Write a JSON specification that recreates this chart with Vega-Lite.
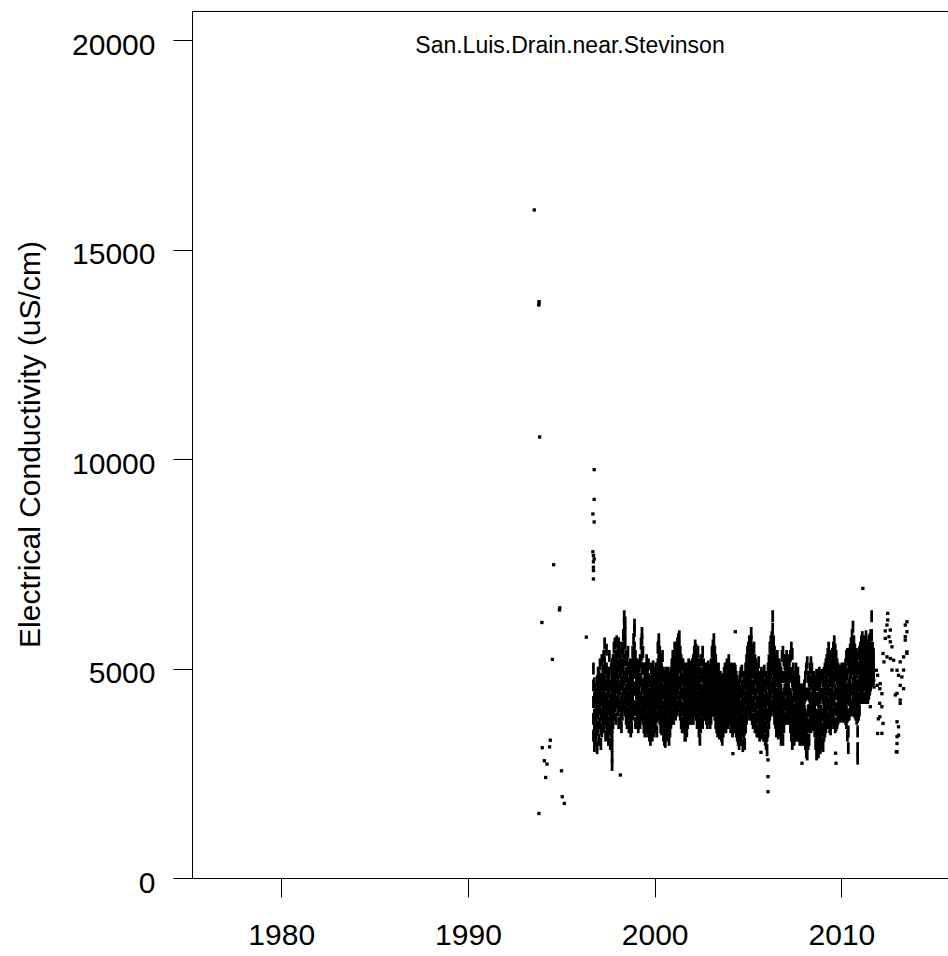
{
  "$schema": "https://vega.github.io/schema/vega-lite/v6.json",
  "width": 756,
  "height": 867,
  "autosize": {"type": "none"},
  "padding": {"left": 192, "top": 11, "right": 0, "bottom": 78},
  "background": "white",
  "config": {
    "view": {"stroke": null},
    "font": "Liberation Sans",
    "axis": {"domainColor": "#000", "tickColor": "#000", "labelColor": "#000", "titleColor": "#000", "grid": false, "domainWidth": 1, "tickWidth": 1, "labelFont": "Liberation Sans", "titleFont": "Liberation Sans", "labelFontSize": 30, "titleFontSize": 30, "titleFontWeight": "normal", "labelFlush": false, "labelOverlap": false}
  },
  "title": {"text": "San.Luis.Drain.near.Stevinson", "fontSize": 23, "fontWeight": "normal", "font": "Liberation Sans", "color": "#000", "anchor": "middle", "offset": -47, "frame": "group"},
  "datasets": {
    "sparse": [
      {"t":1993.55,"v":15950},{"t":1993.79,"v":13680},{"t":1993.81,"v":13760},{"t":1993.80,"v":13720},{"t":1993.84,"v":10530},{"t":1993.96,"v":6100},{"t":1994.59,"v":7480},{"t":1994.90,"v":6400},{"t":1994.92,"v":6450},{"t":1994.52,"v":5220},{"t":1996.34,"v":5750},{"t":1994.41,"v":3290},{"t":1993.98,"v":3110},{"t":1994.37,"v":3130},{"t":1994.09,"v":2800},{"t":1994.23,"v":2720},{"t":1995.01,"v":2560},{"t":1994.16,"v":2400},{"t":1995.05,"v":1940},{"t":1995.16,"v":1780},{"t":1993.80,"v":1540},
      {"t":1996.76,"v":9750},{"t":1996.76,"v":9040},{"t":1996.69,"v":8690},{"t":1996.76,"v":8500},{"t":1996.69,"v":7790},{"t":1996.72,"v":7700},{"t":1996.76,"v":7620},{"t":1996.72,"v":7550},{"t":1996.72,"v":7420},{"t":1996.72,"v":7340},{"t":1996.72,"v":7140},
      {"t":1998.16,"v":2460},{"t":2001.64,"v":3300},{"t":2004.19,"v":2970},{"t":2004.32,"v":5880},{"t":2005.69,"v":3000},{"t":2006.07,"v":2820},{"t":2006.07,"v":2420},{"t":2006.07,"v":2060},{"t":2007.89,"v":2740},{"t":2009.69,"v":2980},{"t":2009.71,"v":2740},{"t":2011.15,"v":6914},
      {"t":2011.55,"v":4090},{"t":2011.73,"v":4720},{"t":2011.75,"v":4560},{"t":2011.87,"v":4960},{"t":2011.94,"v":4840},{"t":2011.92,"v":4600},{"t":2012.08,"v":4640},{"t":2012.06,"v":4520},{"t":2012.17,"v":4400},{"t":2012.05,"v":4170},{"t":2012.17,"v":4090},{"t":2012.06,"v":3850},{"t":2012.23,"v":3690},{"t":2011.94,"v":3450},{"t":2012.17,"v":3454},{"t":2011.98,"v":3800},
      {"t":2012.48,"v":6318},{"t":2012.48,"v":6160},{"t":2012.44,"v":6040},{"t":2012.62,"v":5920},{"t":2012.55,"v":5760},{"t":2012.35,"v":5720},{"t":2012.35,"v":5900},{"t":2012.62,"v":5640},{"t":2012.71,"v":5520},{"t":2012.23,"v":5360},{"t":2012.44,"v":5280},{"t":2012.62,"v":5240},{"t":2012.28,"v":5160},{"t":2012.80,"v":5200},{"t":2012.71,"v":4965},
      {"t":2013.51,"v":6118},{"t":2013.42,"v":6040},{"t":2013.51,"v":5880},{"t":2013.42,"v":5760},{"t":2013.42,"v":5680},{"t":2013.51,"v":5400},{"t":2013.51,"v":5363},{"t":2013.33,"v":5280},{"t":2013.15,"v":5160},{"t":2012.98,"v":4960},{"t":2013.06,"v":4840},{"t":2013.24,"v":4800},{"t":2013.33,"v":4965},{"t":2013.15,"v":4600},{"t":2013.33,"v":4520},{"t":2012.89,"v":4370},{"t":2012.98,"v":4408},{"t":2013.15,"v":4170},{"t":2013.15,"v":4249},{"t":2012.98,"v":3730},{"t":2013.06,"v":3610},{"t":2013.06,"v":3410},{"t":2012.98,"v":3210},{"t":2012.98,"v":3010},{"t":2012.94,"v":3015},{"t":2012.98,"v":3374}
    ],
    "band": [
      {"t":1996.72,"v":3400},{"t":1996.72,"v":3800},{"t":1996.72,"v":4200},{"t":1996.72,"v":4600},{"t":1996.72,"v":5000},
      {"t":1996.77,"v":3150},{"t":1996.77,"v":3550},{"t":1996.77,"v":3900},{"t":1996.77,"v":4300},{"t":1996.77,"v":4650},
      {"t":1996.82,"v":3450},{"t":1996.82,"v":3800},{"t":1996.82,"v":4200},{"t":1996.82,"v":4350},{"t":1996.82,"v":4500},
      {"t":1996.87,"v":3300},{"t":1996.87,"v":3550},{"t":1996.87,"v":3800},{"t":1996.87,"v":4100},{"t":1996.87,"v":4400},
      {"t":1996.92,"v":3100},{"t":1996.92,"v":3550},{"t":1996.92,"v":4000},{"t":1996.92,"v":4350},{"t":1996.92,"v":4700},
      {"t":1996.97,"v":3600},{"t":1996.97,"v":3950},{"t":1996.97,"v":4300},{"t":1996.97,"v":4600},{"t":1996.97,"v":4900},
      {"t":1997.02,"v":3300},{"t":1997.02,"v":3700},{"t":1997.02,"v":4100},{"t":1997.02,"v":4450},{"t":1997.02,"v":4800},
      {"t":1997.07,"v":3700},{"t":1997.07,"v":4050},{"t":1997.07,"v":4400},{"t":1997.07,"v":4750},{"t":1997.07,"v":5100},
      {"t":1997.12,"v":3200},{"t":1997.12,"v":3550},{"t":1997.12,"v":3900},{"t":1997.12,"v":4250},{"t":1997.12,"v":4600},
      {"t":1997.17,"v":3500},{"t":1997.17,"v":3900},{"t":1997.17,"v":4300},{"t":1997.17,"v":4750},{"t":1997.17,"v":5200},
      {"t":1997.22,"v":3800},{"t":1997.22,"v":4150},{"t":1997.22,"v":4500},{"t":1997.22,"v":4700},{"t":1997.22,"v":4950},
      {"t":1997.27,"v":3600},{"t":1997.27,"v":4000},{"t":1997.27,"v":4400},{"t":1997.27,"v":4850},{"t":1997.27,"v":5300},
      {"t":1997.32,"v":3900},{"t":1997.32,"v":4300},{"t":1997.32,"v":4700},{"t":1997.32,"v":5150},{"t":1997.32,"v":5600},
      {"t":1997.37,"v":3400},{"t":1997.37,"v":3800},{"t":1997.37,"v":4200},{"t":1997.37,"v":4600},{"t":1997.37,"v":5000},
      {"t":1997.42,"v":3700},{"t":1997.42,"v":4150},{"t":1997.42,"v":4600},{"t":1997.42,"v":5000},{"t":1997.42,"v":5450},
      {"t":1997.47,"v":3500},{"t":1997.47,"v":3900},{"t":1997.47,"v":4300},{"t":1997.47,"v":4600},{"t":1997.47,"v":4900},
      {"t":1997.52,"v":3300},{"t":1997.52,"v":3700},{"t":1997.52,"v":4100},{"t":1997.52,"v":4450},{"t":1997.52,"v":4800},
      {"t":1997.57,"v":3600},{"t":1997.57,"v":4050},{"t":1997.57,"v":4500},{"t":1997.57,"v":4900},{"t":1997.57,"v":5300},
      {"t":1997.62,"v":3200},{"t":1997.62,"v":3550},{"t":1997.62,"v":3900},{"t":1997.62,"v":4250},{"t":1997.62,"v":4600},
      {"t":1997.67,"v":3500},{"t":1997.67,"v":3850},{"t":1997.67,"v":4200},{"t":1997.67,"v":4600},{"t":1997.67,"v":5000},
      {"t":1997.72,"v":2700},{"t":1997.72,"v":2900},{"t":1997.72,"v":3150},{"t":1997.72,"v":3400},{"t":1997.72,"v":3600},{"t":1997.72,"v":3800},{"t":1997.72,"v":4050},{"t":1997.72,"v":4300},{"t":1997.72,"v":4550},{"t":1997.72,"v":4800},{"t":1997.72,"v":5100},
      {"t":1997.77,"v":3700},{"t":1997.77,"v":4100},{"t":1997.77,"v":4500},{"t":1997.77,"v":4850},{"t":1997.77,"v":5200},
      {"t":1997.82,"v":3900},{"t":1997.82,"v":4300},{"t":1997.82,"v":4700},{"t":1997.82,"v":5100},{"t":1997.82,"v":5500},
      {"t":1997.87,"v":4100},{"t":1997.87,"v":4450},{"t":1997.87,"v":4800},{"t":1997.87,"v":5200},{"t":1997.87,"v":5600},
      {"t":1997.92,"v":3800},{"t":1997.92,"v":4200},{"t":1997.92,"v":4600},{"t":1997.92,"v":4950},{"t":1997.92,"v":5300},
      {"t":1997.97,"v":4200},{"t":1997.97,"v":4550},{"t":1997.97,"v":4900},{"t":1997.97,"v":5250},{"t":1997.97,"v":5650},
      {"t":1998.02,"v":4000},{"t":1998.02,"v":4350},{"t":1998.02,"v":4700},{"t":1998.02,"v":5050},{"t":1998.02,"v":5400},
      {"t":1998.07,"v":3700},{"t":1998.07,"v":4100},{"t":1998.07,"v":4500},{"t":1998.07,"v":5050},{"t":1998.07,"v":5600},
      {"t":1998.12,"v":4100},{"t":1998.12,"v":4500},{"t":1998.12,"v":4900},{"t":1998.12,"v":5200},{"t":1998.12,"v":5500},
      {"t":1998.17,"v":3800},{"t":1998.17,"v":4200},{"t":1998.17,"v":4600},{"t":1998.17,"v":4950},{"t":1998.17,"v":5300},
      {"t":1998.22,"v":3600},{"t":1998.22,"v":3950},{"t":1998.22,"v":4300},{"t":1998.22,"v":4650},{"t":1998.22,"v":5000},
      {"t":1998.27,"v":3900},{"t":1998.27,"v":4300},{"t":1998.27,"v":4700},{"t":1998.27,"v":5100},{"t":1998.27,"v":5500},
      {"t":1998.32,"v":4100},{"t":1998.32,"v":4550},{"t":1998.32,"v":5000},{"t":1998.32,"v":5400},{"t":1998.32,"v":5800},
      {"t":1998.37,"v":4300},{"t":1998.37,"v":4750},{"t":1998.37,"v":5200},{"t":1998.37,"v":5600},{"t":1998.37,"v":6050},{"t":1998.37,"v":6250},
      {"t":1998.42,"v":4000},{"t":1998.42,"v":4400},{"t":1998.42,"v":4800},{"t":1998.42,"v":5200},{"t":1998.42,"v":5600},{"t":1998.42,"v":5850},{"t":1998.42,"v":6100},
      {"t":1998.47,"v":3800},{"t":1998.47,"v":4150},{"t":1998.47,"v":4500},{"t":1998.47,"v":4900},{"t":1998.47,"v":5300},
      {"t":1998.52,"v":3700},{"t":1998.52,"v":4050},{"t":1998.52,"v":4400},{"t":1998.52,"v":4800},{"t":1998.52,"v":5200},
      {"t":1998.57,"v":3900},{"t":1998.57,"v":4250},{"t":1998.57,"v":4600},{"t":1998.57,"v":5000},{"t":1998.57,"v":5400},
      {"t":1998.62,"v":3600},{"t":1998.62,"v":3950},{"t":1998.62,"v":4300},{"t":1998.62,"v":4650},{"t":1998.62,"v":5000},
      {"t":1998.67,"v":3800},{"t":1998.67,"v":4150},{"t":1998.67,"v":4500},{"t":1998.67,"v":4800},{"t":1998.67,"v":5100},
      {"t":1998.72,"v":3500},{"t":1998.72,"v":3850},{"t":1998.72,"v":4200},{"t":1998.72,"v":4550},{"t":1998.72,"v":4900},
      {"t":1998.77,"v":3600},{"t":1998.77,"v":4000},{"t":1998.77,"v":4400},{"t":1998.77,"v":4750},{"t":1998.77,"v":5100},
      {"t":1998.82,"v":3900},{"t":1998.82,"v":4300},{"t":1998.82,"v":4700},{"t":1998.82,"v":5050},{"t":1998.82,"v":5400},
      {"t":1998.87,"v":4100},{"t":1998.87,"v":4500},{"t":1998.87,"v":4900},{"t":1998.87,"v":5300},{"t":1998.87,"v":5700},
      {"t":1998.92,"v":4000},{"t":1998.92,"v":4550},{"t":1998.92,"v":5100},{"t":1998.92,"v":5500},{"t":1998.92,"v":5900},{"t":1998.92,"v":6050},
      {"t":1998.97,"v":3700},{"t":1998.97,"v":4100},{"t":1998.97,"v":4500},{"t":1998.97,"v":4900},{"t":1998.97,"v":5300},
      {"t":1999.02,"v":3700},{"t":1999.02,"v":4050},{"t":1999.02,"v":4400},{"t":1999.02,"v":4700},{"t":1999.02,"v":5000},
      {"t":1999.07,"v":3900},{"t":1999.07,"v":4250},{"t":1999.07,"v":4600},{"t":1999.07,"v":4850},{"t":1999.07,"v":5100},
      {"t":1999.12,"v":3600},{"t":1999.12,"v":3900},{"t":1999.12,"v":4200},{"t":1999.12,"v":4500},{"t":1999.12,"v":4800},
      {"t":1999.17,"v":3800},{"t":1999.17,"v":4150},{"t":1999.17,"v":4500},{"t":1999.17,"v":4750},{"t":1999.17,"v":5050},
      {"t":1999.22,"v":3700},{"t":1999.22,"v":4000},{"t":1999.22,"v":4300},{"t":1999.22,"v":4750},{"t":1999.22,"v":5200},
      {"t":1999.27,"v":3900},{"t":1999.27,"v":4300},{"t":1999.27,"v":4700},{"t":1999.27,"v":5150},{"t":1999.27,"v":5600},
      {"t":1999.32,"v":4100},{"t":1999.32,"v":4550},{"t":1999.32,"v":5000},{"t":1999.32,"v":5350},{"t":1999.32,"v":5700},{"t":1999.32,"v":5850},
      {"t":1999.37,"v":3800},{"t":1999.37,"v":4200},{"t":1999.37,"v":4600},{"t":1999.37,"v":5000},{"t":1999.37,"v":5400},
      {"t":1999.42,"v":3600},{"t":1999.42,"v":3950},{"t":1999.42,"v":4300},{"t":1999.42,"v":4650},{"t":1999.42,"v":5000},
      {"t":1999.47,"v":3500},{"t":1999.47,"v":3800},{"t":1999.47,"v":4100},{"t":1999.47,"v":4450},{"t":1999.47,"v":4800},
      {"t":1999.52,"v":3600},{"t":1999.52,"v":3950},{"t":1999.52,"v":4300},{"t":1999.52,"v":4650},{"t":1999.52,"v":5000},
      {"t":1999.57,"v":3800},{"t":1999.57,"v":4150},{"t":1999.57,"v":4500},{"t":1999.57,"v":4850},{"t":1999.57,"v":5200},
      {"t":1999.62,"v":3500},{"t":1999.62,"v":3850},{"t":1999.62,"v":4200},{"t":1999.62,"v":4550},{"t":1999.62,"v":4900},
      {"t":1999.67,"v":3700},{"t":1999.67,"v":4050},{"t":1999.67,"v":4400},{"t":1999.67,"v":4750},{"t":1999.67,"v":5100},
      {"t":1999.72,"v":3400},{"t":1999.72,"v":3750},{"t":1999.72,"v":4100},{"t":1999.72,"v":4400},{"t":1999.72,"v":4700},
      {"t":1999.77,"v":3300},{"t":1999.77,"v":3650},{"t":1999.77,"v":4000},{"t":1999.77,"v":4350},{"t":1999.77,"v":4700},
      {"t":1999.82,"v":3600},{"t":1999.82,"v":3950},{"t":1999.82,"v":4300},{"t":1999.82,"v":4650},{"t":1999.82,"v":5000},
      {"t":1999.87,"v":3400},{"t":1999.87,"v":3800},{"t":1999.87,"v":4200},{"t":1999.87,"v":4550},{"t":1999.87,"v":4900},
      {"t":1999.92,"v":3700},{"t":1999.92,"v":4050},{"t":1999.92,"v":4400},{"t":1999.92,"v":4700},{"t":1999.92,"v":5050},
      {"t":1999.97,"v":3500},{"t":1999.97,"v":3800},{"t":1999.97,"v":4100},{"t":1999.97,"v":4450},{"t":1999.97,"v":4800},
      {"t":2000.02,"v":3600},{"t":2000.02,"v":3950},{"t":2000.02,"v":4300},{"t":2000.02,"v":4600},{"t":2000.02,"v":4900},
      {"t":2000.07,"v":3800},{"t":2000.07,"v":4150},{"t":2000.07,"v":4500},{"t":2000.07,"v":4750},{"t":2000.07,"v":5000},
      {"t":2000.12,"v":3500},{"t":2000.12,"v":3850},{"t":2000.12,"v":4200},{"t":2000.12,"v":4500},{"t":2000.12,"v":4800},
      {"t":2000.17,"v":3900},{"t":2000.17,"v":4300},{"t":2000.17,"v":4700},{"t":2000.17,"v":5100},{"t":2000.17,"v":5500},
      {"t":2000.22,"v":4000},{"t":2000.22,"v":4450},{"t":2000.22,"v":4900},{"t":2000.22,"v":5250},{"t":2000.22,"v":5550},{"t":2000.22,"v":5700},
      {"t":2000.27,"v":3800},{"t":2000.27,"v":4200},{"t":2000.27,"v":4600},{"t":2000.27,"v":5000},{"t":2000.27,"v":5400},
      {"t":2000.32,"v":3600},{"t":2000.32,"v":4000},{"t":2000.32,"v":4400},{"t":2000.32,"v":4800},{"t":2000.32,"v":5200},
      {"t":2000.37,"v":3550},{"t":2000.37,"v":3900},{"t":2000.37,"v":4300},{"t":2000.37,"v":4650},{"t":2000.37,"v":5000},
      {"t":2000.42,"v":3700},{"t":2000.42,"v":4100},{"t":2000.42,"v":4500},{"t":2000.42,"v":4900},{"t":2000.42,"v":5300},
      {"t":2000.47,"v":3400},{"t":2000.47,"v":3750},{"t":2000.47,"v":4100},{"t":2000.47,"v":4500},{"t":2000.47,"v":4900},
      {"t":2000.52,"v":3300},{"t":2000.52,"v":3650},{"t":2000.52,"v":4000},{"t":2000.52,"v":4400},{"t":2000.52,"v":4800},
      {"t":2000.57,"v":3250},{"t":2000.57,"v":3550},{"t":2000.57,"v":3900},{"t":2000.57,"v":4250},{"t":2000.57,"v":4600},
      {"t":2000.62,"v":3500},{"t":2000.62,"v":3850},{"t":2000.62,"v":4200},{"t":2000.62,"v":4550},{"t":2000.62,"v":4900},
      {"t":2000.67,"v":3400},{"t":2000.67,"v":3750},{"t":2000.67,"v":4100},{"t":2000.67,"v":4400},{"t":2000.67,"v":4700},
      {"t":2000.72,"v":3600},{"t":2000.72,"v":3950},{"t":2000.72,"v":4300},{"t":2000.72,"v":4600},{"t":2000.72,"v":4900},
      {"t":2000.77,"v":3300},{"t":2000.77,"v":3650},{"t":2000.77,"v":4000},{"t":2000.77,"v":4350},{"t":2000.77,"v":4700},
      {"t":2000.82,"v":3500},{"t":2000.82,"v":3850},{"t":2000.82,"v":4200},{"t":2000.82,"v":4500},{"t":2000.82,"v":4800},
      {"t":2000.87,"v":3700},{"t":2000.87,"v":4050},{"t":2000.87,"v":4400},{"t":2000.87,"v":4650},{"t":2000.87,"v":4900},
      {"t":2000.92,"v":3800},{"t":2000.92,"v":4150},{"t":2000.92,"v":4500},{"t":2000.92,"v":4800},{"t":2000.92,"v":5100},
      {"t":2000.97,"v":3900},{"t":2000.97,"v":4300},{"t":2000.97,"v":4700},{"t":2000.97,"v":5000},{"t":2000.97,"v":5300},
      {"t":2001.02,"v":3800},{"t":2001.02,"v":4200},{"t":2001.02,"v":4600},{"t":2001.02,"v":4900},{"t":2001.02,"v":5200},
      {"t":2001.07,"v":4000},{"t":2001.07,"v":4400},{"t":2001.07,"v":4800},{"t":2001.07,"v":5150},{"t":2001.07,"v":5500},
      {"t":2001.12,"v":3900},{"t":2001.12,"v":4250},{"t":2001.12,"v":4600},{"t":2001.12,"v":4950},{"t":2001.12,"v":5300},
      {"t":2001.17,"v":4100},{"t":2001.17,"v":4500},{"t":2001.17,"v":4900},{"t":2001.17,"v":5200},{"t":2001.17,"v":5500},
      {"t":2001.22,"v":4000},{"t":2001.22,"v":4400},{"t":2001.22,"v":4800},{"t":2001.22,"v":5200},{"t":2001.22,"v":5600},
      {"t":2001.27,"v":4100},{"t":2001.27,"v":4550},{"t":2001.27,"v":5000},{"t":2001.27,"v":5350},{"t":2001.27,"v":5700},
      {"t":2001.32,"v":4200},{"t":2001.32,"v":4650},{"t":2001.32,"v":5100},{"t":2001.32,"v":5500},{"t":2001.32,"v":5770},
      {"t":2001.37,"v":3900},{"t":2001.37,"v":4300},{"t":2001.37,"v":4700},{"t":2001.37,"v":5050},{"t":2001.37,"v":5400},
      {"t":2001.42,"v":3700},{"t":2001.42,"v":4100},{"t":2001.42,"v":4500},{"t":2001.42,"v":4850},{"t":2001.42,"v":5200},
      {"t":2001.47,"v":3600},{"t":2001.47,"v":4000},{"t":2001.47,"v":4400},{"t":2001.47,"v":4750},{"t":2001.47,"v":5100},
      {"t":2001.52,"v":3700},{"t":2001.52,"v":4050},{"t":2001.52,"v":4400},{"t":2001.52,"v":4750},{"t":2001.52,"v":5100},
      {"t":2001.57,"v":3600},{"t":2001.57,"v":3950},{"t":2001.57,"v":4300},{"t":2001.57,"v":4650},{"t":2001.57,"v":5000},
      {"t":2001.62,"v":3400},{"t":2001.62,"v":3800},{"t":2001.62,"v":4200},{"t":2001.62,"v":4550},{"t":2001.62,"v":4900},
      {"t":2001.67,"v":3600},{"t":2001.67,"v":3950},{"t":2001.67,"v":4300},{"t":2001.67,"v":4650},{"t":2001.67,"v":5000},
      {"t":2001.72,"v":3500},{"t":2001.72,"v":3850},{"t":2001.72,"v":4200},{"t":2001.72,"v":4550},{"t":2001.72,"v":4900},
      {"t":2001.77,"v":3700},{"t":2001.77,"v":4050},{"t":2001.77,"v":4400},{"t":2001.77,"v":4700},{"t":2001.77,"v":5000},
      {"t":2001.82,"v":3900},{"t":2001.82,"v":4250},{"t":2001.82,"v":4600},{"t":2001.82,"v":4850},{"t":2001.82,"v":5100},
      {"t":2001.87,"v":3800},{"t":2001.87,"v":4150},{"t":2001.87,"v":4500},{"t":2001.87,"v":4750},{"t":2001.87,"v":5050},
      {"t":2001.92,"v":3900},{"t":2001.92,"v":4250},{"t":2001.92,"v":4600},{"t":2001.92,"v":4800},{"t":2001.92,"v":5000},
      {"t":2001.97,"v":3800},{"t":2001.97,"v":4100},{"t":2001.97,"v":4400},{"t":2001.97,"v":4700},{"t":2001.97,"v":5000},
      {"t":2002.02,"v":3900},{"t":2002.02,"v":4200},{"t":2002.02,"v":4500},{"t":2002.02,"v":4800},{"t":2002.02,"v":5100},
      {"t":2002.07,"v":3800},{"t":2002.07,"v":4200},{"t":2002.07,"v":4600},{"t":2002.07,"v":4900},{"t":2002.07,"v":5200},
      {"t":2002.12,"v":4000},{"t":2002.12,"v":4350},{"t":2002.12,"v":4700},{"t":2002.12,"v":5050},{"t":2002.12,"v":5400},
      {"t":2002.17,"v":4100},{"t":2002.17,"v":4500},{"t":2002.17,"v":4900},{"t":2002.17,"v":5250},{"t":2002.17,"v":5550},
      {"t":2002.22,"v":3900},{"t":2002.22,"v":4300},{"t":2002.22,"v":4700},{"t":2002.22,"v":5100},{"t":2002.22,"v":5450},
      {"t":2002.27,"v":3700},{"t":2002.27,"v":4100},{"t":2002.27,"v":4500},{"t":2002.27,"v":4900},{"t":2002.27,"v":5300},
      {"t":2002.32,"v":3800},{"t":2002.32,"v":4200},{"t":2002.32,"v":4600},{"t":2002.32,"v":5000},{"t":2002.32,"v":5400},
      {"t":2002.37,"v":3500},{"t":2002.37,"v":3900},{"t":2002.37,"v":4300},{"t":2002.37,"v":4700},{"t":2002.37,"v":5100},
      {"t":2002.42,"v":3300},{"t":2002.42,"v":3700},{"t":2002.42,"v":4100},{"t":2002.42,"v":4500},{"t":2002.42,"v":4900},
      {"t":2002.47,"v":3600},{"t":2002.47,"v":4000},{"t":2002.47,"v":4400},{"t":2002.47,"v":4800},{"t":2002.47,"v":5200},
      {"t":2002.52,"v":3800},{"t":2002.52,"v":4150},{"t":2002.52,"v":4500},{"t":2002.52,"v":4850},{"t":2002.52,"v":5200},
      {"t":2002.57,"v":3700},{"t":2002.57,"v":4050},{"t":2002.57,"v":4400},{"t":2002.57,"v":4900},{"t":2002.57,"v":5400},
      {"t":2002.62,"v":3900},{"t":2002.62,"v":4250},{"t":2002.62,"v":4600},{"t":2002.62,"v":4850},{"t":2002.62,"v":5100},
      {"t":2002.67,"v":4000},{"t":2002.67,"v":4300},{"t":2002.67,"v":4600},{"t":2002.67,"v":4800},{"t":2002.67,"v":5000},
      {"t":2002.72,"v":3900},{"t":2002.72,"v":4200},{"t":2002.72,"v":4500},{"t":2002.72,"v":4750},{"t":2002.72,"v":4950},
      {"t":2002.77,"v":3800},{"t":2002.77,"v":4100},{"t":2002.77,"v":4400},{"t":2002.77,"v":4700},{"t":2002.77,"v":5000},
      {"t":2002.82,"v":3700},{"t":2002.82,"v":4000},{"t":2002.82,"v":4300},{"t":2002.82,"v":4600},{"t":2002.82,"v":4900},
      {"t":2002.87,"v":3900},{"t":2002.87,"v":4200},{"t":2002.87,"v":4500},{"t":2002.87,"v":4800},{"t":2002.87,"v":5050},
      {"t":2002.92,"v":3800},{"t":2002.92,"v":4100},{"t":2002.92,"v":4400},{"t":2002.92,"v":4700},{"t":2002.92,"v":4950},
      {"t":2002.97,"v":3700},{"t":2002.97,"v":4000},{"t":2002.97,"v":4300},{"t":2002.97,"v":4600},{"t":2002.97,"v":4900},
      {"t":2003.02,"v":3800},{"t":2003.02,"v":4150},{"t":2003.02,"v":4500},{"t":2003.02,"v":4800},{"t":2003.02,"v":5100},
      {"t":2003.07,"v":4000},{"t":2003.07,"v":4350},{"t":2003.07,"v":4700},{"t":2003.07,"v":5050},{"t":2003.07,"v":5400},
      {"t":2003.12,"v":4100},{"t":2003.12,"v":4500},{"t":2003.12,"v":4900},{"t":2003.12,"v":5250},{"t":2003.12,"v":5550},
      {"t":2003.17,"v":4000},{"t":2003.17,"v":4400},{"t":2003.17,"v":4800},{"t":2003.17,"v":5150},{"t":2003.17,"v":5450},{"t":2003.17,"v":5700},
      {"t":2003.22,"v":3900},{"t":2003.22,"v":4250},{"t":2003.22,"v":4600},{"t":2003.22,"v":5000},{"t":2003.22,"v":5400},
      {"t":2003.27,"v":3700},{"t":2003.27,"v":4100},{"t":2003.27,"v":4500},{"t":2003.27,"v":4850},{"t":2003.27,"v":5200},
      {"t":2003.32,"v":3600},{"t":2003.32,"v":4000},{"t":2003.32,"v":4400},{"t":2003.32,"v":4700},{"t":2003.32,"v":5000},
      {"t":2003.37,"v":3500},{"t":2003.37,"v":3850},{"t":2003.37,"v":4200},{"t":2003.37,"v":4550},{"t":2003.37,"v":4900},
      {"t":2003.42,"v":3700},{"t":2003.42,"v":4000},{"t":2003.42,"v":4300},{"t":2003.42,"v":4650},{"t":2003.42,"v":5000},
      {"t":2003.47,"v":3450},{"t":2003.47,"v":3800},{"t":2003.47,"v":4100},{"t":2003.47,"v":4450},{"t":2003.47,"v":4800},
      {"t":2003.52,"v":3500},{"t":2003.52,"v":3850},{"t":2003.52,"v":4200},{"t":2003.52,"v":4500},{"t":2003.52,"v":4800},
      {"t":2003.57,"v":3400},{"t":2003.57,"v":3700},{"t":2003.57,"v":4000},{"t":2003.57,"v":4350},{"t":2003.57,"v":4700},
      {"t":2003.62,"v":3300},{"t":2003.62,"v":3600},{"t":2003.62,"v":3900},{"t":2003.62,"v":4250},{"t":2003.62,"v":4600},
      {"t":2003.67,"v":3500},{"t":2003.67,"v":3800},{"t":2003.67,"v":4100},{"t":2003.67,"v":4450},{"t":2003.67,"v":4750},
      {"t":2003.72,"v":3600},{"t":2003.72,"v":3950},{"t":2003.72,"v":4300},{"t":2003.72,"v":4600},{"t":2003.72,"v":4900},
      {"t":2003.77,"v":3700},{"t":2003.77,"v":4050},{"t":2003.77,"v":4400},{"t":2003.77,"v":4700},{"t":2003.77,"v":5000},
      {"t":2003.82,"v":3600},{"t":2003.82,"v":3950},{"t":2003.82,"v":4300},{"t":2003.82,"v":4600},{"t":2003.82,"v":4900},
      {"t":2003.87,"v":3800},{"t":2003.87,"v":4150},{"t":2003.87,"v":4500},{"t":2003.87,"v":4800},{"t":2003.87,"v":5100},
      {"t":2003.92,"v":3700},{"t":2003.92,"v":4050},{"t":2003.92,"v":4400},{"t":2003.92,"v":4700},{"t":2003.92,"v":5000},
      {"t":2003.97,"v":3900},{"t":2003.97,"v":4250},{"t":2003.97,"v":4600},{"t":2003.97,"v":4900},{"t":2003.97,"v":5200},
      {"t":2004.02,"v":3800},{"t":2004.02,"v":4150},{"t":2004.02,"v":4500},{"t":2004.02,"v":4750},{"t":2004.02,"v":5000},
      {"t":2004.07,"v":3600},{"t":2004.07,"v":3950},{"t":2004.07,"v":4300},{"t":2004.07,"v":4600},{"t":2004.07,"v":4900},
      {"t":2004.12,"v":3700},{"t":2004.12,"v":4050},{"t":2004.12,"v":4400},{"t":2004.12,"v":4700},{"t":2004.12,"v":5000},
      {"t":2004.17,"v":3500},{"t":2004.17,"v":3850},{"t":2004.17,"v":4200},{"t":2004.17,"v":4500},{"t":2004.17,"v":4800},
      {"t":2004.22,"v":3600},{"t":2004.22,"v":3950},{"t":2004.22,"v":4300},{"t":2004.22,"v":4600},{"t":2004.22,"v":4900},
      {"t":2004.27,"v":3700},{"t":2004.27,"v":4050},{"t":2004.27,"v":4400},{"t":2004.27,"v":4700},{"t":2004.27,"v":5000},
      {"t":2004.32,"v":3600},{"t":2004.32,"v":3950},{"t":2004.32,"v":4300},{"t":2004.32,"v":4650},{"t":2004.32,"v":4950},
      {"t":2004.37,"v":3500},{"t":2004.37,"v":3850},{"t":2004.37,"v":4200},{"t":2004.37,"v":4500},{"t":2004.37,"v":4800},
      {"t":2004.42,"v":3400},{"t":2004.42,"v":3750},{"t":2004.42,"v":4100},{"t":2004.42,"v":4400},{"t":2004.42,"v":4700},
      {"t":2004.47,"v":3300},{"t":2004.47,"v":3650},{"t":2004.47,"v":4000},{"t":2004.47,"v":4300},{"t":2004.47,"v":4600},
      {"t":2004.52,"v":3200},{"t":2004.52,"v":3550},{"t":2004.52,"v":3900},{"t":2004.52,"v":4250},{"t":2004.52,"v":4600},
      {"t":2004.57,"v":3400},{"t":2004.57,"v":3750},{"t":2004.57,"v":4100},{"t":2004.57,"v":4450},{"t":2004.57,"v":4800},
      {"t":2004.62,"v":3300},{"t":2004.62,"v":3650},{"t":2004.62,"v":4000},{"t":2004.62,"v":4450},{"t":2004.62,"v":4900},
      {"t":2004.67,"v":3500},{"t":2004.67,"v":3850},{"t":2004.67,"v":4200},{"t":2004.67,"v":4600},{"t":2004.67,"v":4950},
      {"t":2004.72,"v":3150},{"t":2004.72,"v":3500},{"t":2004.72,"v":3800},{"t":2004.72,"v":4150},{"t":2004.72,"v":4500},
      {"t":2004.77,"v":3400},{"t":2004.77,"v":3750},{"t":2004.77,"v":4100},{"t":2004.77,"v":4450},{"t":2004.77,"v":4800},
      {"t":2004.82,"v":3200},{"t":2004.82,"v":3550},{"t":2004.82,"v":3900},{"t":2004.82,"v":4300},{"t":2004.82,"v":4700},
      {"t":2004.87,"v":3600},{"t":2004.87,"v":3950},{"t":2004.87,"v":4300},{"t":2004.87,"v":4650},{"t":2004.87,"v":5000},
      {"t":2004.92,"v":3800},{"t":2004.92,"v":4150},{"t":2004.92,"v":4500},{"t":2004.92,"v":4850},{"t":2004.92,"v":5200},
      {"t":2004.97,"v":3900},{"t":2004.97,"v":4300},{"t":2004.97,"v":4700},{"t":2004.97,"v":5050},{"t":2004.97,"v":5400},
      {"t":2005.02,"v":4000},{"t":2005.02,"v":4400},{"t":2005.02,"v":4800},{"t":2005.02,"v":5150},{"t":2005.02,"v":5500},
      {"t":2005.07,"v":4100},{"t":2005.07,"v":4500},{"t":2005.07,"v":4900},{"t":2005.07,"v":5300},{"t":2005.07,"v":5650},
      {"t":2005.12,"v":3900},{"t":2005.12,"v":4300},{"t":2005.12,"v":4700},{"t":2005.12,"v":5150},{"t":2005.12,"v":5550},
      {"t":2005.17,"v":4000},{"t":2005.17,"v":4450},{"t":2005.17,"v":4900},{"t":2005.17,"v":5300},{"t":2005.17,"v":5650},{"t":2005.17,"v":5850},
      {"t":2005.22,"v":3800},{"t":2005.22,"v":4200},{"t":2005.22,"v":4600},{"t":2005.22,"v":5050},{"t":2005.22,"v":5450},
      {"t":2005.27,"v":3700},{"t":2005.27,"v":4100},{"t":2005.27,"v":4500},{"t":2005.27,"v":4900},{"t":2005.27,"v":5300},
      {"t":2005.32,"v":3800},{"t":2005.32,"v":4200},{"t":2005.32,"v":4600},{"t":2005.32,"v":5050},{"t":2005.32,"v":5500},
      {"t":2005.37,"v":3600},{"t":2005.37,"v":4000},{"t":2005.37,"v":4400},{"t":2005.37,"v":4800},{"t":2005.37,"v":5200},
      {"t":2005.42,"v":3700},{"t":2005.42,"v":4050},{"t":2005.42,"v":4400},{"t":2005.42,"v":4750},{"t":2005.42,"v":5100},
      {"t":2005.47,"v":3500},{"t":2005.47,"v":3850},{"t":2005.47,"v":4200},{"t":2005.47,"v":4600},{"t":2005.47,"v":5000},
      {"t":2005.52,"v":3500},{"t":2005.52,"v":3850},{"t":2005.52,"v":4200},{"t":2005.52,"v":4550},{"t":2005.52,"v":4900},
      {"t":2005.57,"v":3600},{"t":2005.57,"v":3950},{"t":2005.57,"v":4300},{"t":2005.57,"v":4700},{"t":2005.57,"v":5150},
      {"t":2005.62,"v":3400},{"t":2005.62,"v":3750},{"t":2005.62,"v":4100},{"t":2005.62,"v":4450},{"t":2005.62,"v":4800},
      {"t":2005.67,"v":3450},{"t":2005.67,"v":3750},{"t":2005.67,"v":4000},{"t":2005.67,"v":4350},{"t":2005.67,"v":4700},
      {"t":2005.72,"v":3600},{"t":2005.72,"v":3900},{"t":2005.72,"v":4200},{"t":2005.72,"v":4550},{"t":2005.72,"v":4900},
      {"t":2005.77,"v":3500},{"t":2005.77,"v":3800},{"t":2005.77,"v":4100},{"t":2005.77,"v":4450},{"t":2005.77,"v":4800},
      {"t":2005.82,"v":3400},{"t":2005.82,"v":3700},{"t":2005.82,"v":4000},{"t":2005.82,"v":4350},{"t":2005.82,"v":4700},
      {"t":2005.87,"v":3600},{"t":2005.87,"v":3900},{"t":2005.87,"v":4200},{"t":2005.87,"v":4600},{"t":2005.87,"v":4950},
      {"t":2005.92,"v":3300},{"t":2005.92,"v":3600},{"t":2005.92,"v":3900},{"t":2005.92,"v":4250},{"t":2005.92,"v":4600},
      {"t":2005.97,"v":3200},{"t":2005.97,"v":3600},{"t":2005.97,"v":4000},{"t":2005.97,"v":4400},{"t":2005.97,"v":4800},
      {"t":2006.02,"v":3050},{"t":2006.02,"v":3400},{"t":2006.02,"v":3800},{"t":2006.02,"v":4250},{"t":2006.02,"v":4700},
      {"t":2006.07,"v":3500},{"t":2006.07,"v":3900},{"t":2006.07,"v":4300},{"t":2006.07,"v":4650},{"t":2006.07,"v":5000},
      {"t":2006.12,"v":3700},{"t":2006.12,"v":4100},{"t":2006.12,"v":4500},{"t":2006.12,"v":4850},{"t":2006.12,"v":5200},
      {"t":2006.17,"v":3900},{"t":2006.17,"v":4300},{"t":2006.17,"v":4700},{"t":2006.17,"v":5100},{"t":2006.17,"v":5500},
      {"t":2006.22,"v":4000},{"t":2006.22,"v":4450},{"t":2006.22,"v":4900},{"t":2006.22,"v":5300},{"t":2006.22,"v":5650},
      {"t":2006.27,"v":4100},{"t":2006.27,"v":4550},{"t":2006.27,"v":5000},{"t":2006.27,"v":5400},{"t":2006.27,"v":5750},
      {"t":2006.32,"v":4200},{"t":2006.32,"v":4650},{"t":2006.32,"v":5100},{"t":2006.32,"v":5550},{"t":2006.32,"v":5950},{"t":2006.32,"v":6250},
      {"t":2006.37,"v":4000},{"t":2006.37,"v":4400},{"t":2006.37,"v":4800},{"t":2006.37,"v":5250},{"t":2006.37,"v":5650},
      {"t":2006.42,"v":3800},{"t":2006.42,"v":4200},{"t":2006.42,"v":4600},{"t":2006.42,"v":5000},{"t":2006.42,"v":5400},
      {"t":2006.47,"v":3700},{"t":2006.47,"v":4050},{"t":2006.47,"v":4400},{"t":2006.47,"v":4800},{"t":2006.47,"v":5200},
      {"t":2006.52,"v":3500},{"t":2006.52,"v":3900},{"t":2006.52,"v":4300},{"t":2006.52,"v":4700},{"t":2006.52,"v":5100},
      {"t":2006.57,"v":3600},{"t":2006.57,"v":4000},{"t":2006.57,"v":4400},{"t":2006.57,"v":4850},{"t":2006.57,"v":5300},
      {"t":2006.62,"v":3450},{"t":2006.62,"v":3850},{"t":2006.62,"v":4200},{"t":2006.62,"v":4600},{"t":2006.62,"v":5000},
      {"t":2006.67,"v":3700},{"t":2006.67,"v":4050},{"t":2006.67,"v":4400},{"t":2006.67,"v":4750},{"t":2006.67,"v":5100},
      {"t":2006.72,"v":3500},{"t":2006.72,"v":3900},{"t":2006.72,"v":4300},{"t":2006.72,"v":4650},{"t":2006.72,"v":5000},
      {"t":2006.77,"v":3300},{"t":2006.77,"v":3700},{"t":2006.77,"v":4100},{"t":2006.77,"v":4500},{"t":2006.77,"v":4900},
      {"t":2006.82,"v":3500},{"t":2006.82,"v":3900},{"t":2006.82,"v":4300},{"t":2006.82,"v":4800},{"t":2006.82,"v":5300},
      {"t":2006.87,"v":3300},{"t":2006.87,"v":3750},{"t":2006.87,"v":4200},{"t":2006.87,"v":4800},{"t":2006.87,"v":5400},
      {"t":2006.92,"v":3600},{"t":2006.92,"v":4000},{"t":2006.92,"v":4400},{"t":2006.92,"v":4800},{"t":2006.92,"v":5200},
      {"t":2006.97,"v":3800},{"t":2006.97,"v":4150},{"t":2006.97,"v":4500},{"t":2006.97,"v":4800},{"t":2006.97,"v":5100},
      {"t":2007.02,"v":3800},{"t":2007.02,"v":4150},{"t":2007.02,"v":4500},{"t":2007.02,"v":4850},{"t":2007.02,"v":5200},
      {"t":2007.07,"v":3900},{"t":2007.07,"v":4250},{"t":2007.07,"v":4600},{"t":2007.07,"v":4950},{"t":2007.07,"v":5300},
      {"t":2007.12,"v":3800},{"t":2007.12,"v":4100},{"t":2007.12,"v":4400},{"t":2007.12,"v":4750},{"t":2007.12,"v":5100},
      {"t":2007.17,"v":3900},{"t":2007.17,"v":4200},{"t":2007.17,"v":4500},{"t":2007.17,"v":4750},{"t":2007.17,"v":5000},
      {"t":2007.22,"v":3800},{"t":2007.22,"v":4100},{"t":2007.22,"v":4400},{"t":2007.22,"v":4800},{"t":2007.22,"v":5200},
      {"t":2007.27,"v":3600},{"t":2007.27,"v":4000},{"t":2007.27,"v":4400},{"t":2007.27,"v":4850},{"t":2007.27,"v":5300},
      {"t":2007.32,"v":3400},{"t":2007.32,"v":3850},{"t":2007.32,"v":4300},{"t":2007.32,"v":4900},{"t":2007.32,"v":5500},
      {"t":2007.37,"v":3200},{"t":2007.37,"v":3650},{"t":2007.37,"v":4100},{"t":2007.37,"v":4700},{"t":2007.37,"v":5350},
      {"t":2007.42,"v":3500},{"t":2007.42,"v":3850},{"t":2007.42,"v":4200},{"t":2007.42,"v":4600},{"t":2007.42,"v":5000},
      {"t":2007.47,"v":3300},{"t":2007.47,"v":3650},{"t":2007.47,"v":4000},{"t":2007.47,"v":4400},{"t":2007.47,"v":4800},
      {"t":2007.52,"v":3400},{"t":2007.52,"v":3700},{"t":2007.52,"v":4000},{"t":2007.52,"v":4350},{"t":2007.52,"v":4700},
      {"t":2007.57,"v":3500},{"t":2007.57,"v":3800},{"t":2007.57,"v":4100},{"t":2007.57,"v":4550},{"t":2007.57,"v":5000},
      {"t":2007.62,"v":3400},{"t":2007.62,"v":3700},{"t":2007.62,"v":4000},{"t":2007.62,"v":4400},{"t":2007.62,"v":4800},
      {"t":2007.67,"v":3600},{"t":2007.67,"v":3900},{"t":2007.67,"v":4200},{"t":2007.67,"v":4550},{"t":2007.67,"v":4900},
      {"t":2007.72,"v":3400},{"t":2007.72,"v":3700},{"t":2007.72,"v":4000},{"t":2007.72,"v":4350},{"t":2007.72,"v":4700},
      {"t":2007.77,"v":3300},{"t":2007.77,"v":3600},{"t":2007.77,"v":3900},{"t":2007.77,"v":4200},{"t":2007.77,"v":4500},
      {"t":2007.82,"v":3400},{"t":2007.82,"v":3700},{"t":2007.82,"v":4000},{"t":2007.82,"v":4200},{"t":2007.82,"v":4400},
      {"t":2007.87,"v":3300},{"t":2007.87,"v":3550},{"t":2007.87,"v":3800},{"t":2007.87,"v":4150},{"t":2007.87,"v":4500},
      {"t":2007.92,"v":3500},{"t":2007.92,"v":3750},{"t":2007.92,"v":4000},{"t":2007.92,"v":4250},{"t":2007.92,"v":4450},
      {"t":2007.97,"v":3300},{"t":2007.97,"v":3600},{"t":2007.97,"v":3900},{"t":2007.97,"v":4200},{"t":2007.97,"v":4500},
      {"t":2008.02,"v":3400},{"t":2008.02,"v":3700},{"t":2008.02,"v":4000},{"t":2008.02,"v":4300},{"t":2008.02,"v":4600},
      {"t":2008.07,"v":3200},{"t":2008.07,"v":3550},{"t":2008.07,"v":3900},{"t":2008.07,"v":4350},{"t":2008.07,"v":4800},
      {"t":2008.12,"v":3000},{"t":2008.12,"v":3400},{"t":2008.12,"v":3800},{"t":2008.12,"v":4400},{"t":2008.12,"v":5000},
      {"t":2008.17,"v":2950},{"t":2008.17,"v":3300},{"t":2008.17,"v":3700},{"t":2008.17,"v":4400},{"t":2008.17,"v":5150},
      {"t":2008.22,"v":3200},{"t":2008.22,"v":3600},{"t":2008.22,"v":4000},{"t":2008.22,"v":4400},{"t":2008.22,"v":4800},
      {"t":2008.27,"v":3300},{"t":2008.27,"v":3650},{"t":2008.27,"v":4000},{"t":2008.27,"v":4350},{"t":2008.27,"v":4700},
      {"t":2008.32,"v":3600},{"t":2008.32,"v":3900},{"t":2008.32,"v":4200},{"t":2008.32,"v":4600},{"t":2008.32,"v":5000},
      {"t":2008.37,"v":3600},{"t":2008.37,"v":3950},{"t":2008.37,"v":4300},{"t":2008.37,"v":4700},{"t":2008.37,"v":5150},
      {"t":2008.42,"v":3700},{"t":2008.42,"v":4000},{"t":2008.42,"v":4300},{"t":2008.42,"v":4650},{"t":2008.42,"v":5000},
      {"t":2008.47,"v":3650},{"t":2008.47,"v":3900},{"t":2008.47,"v":4200},{"t":2008.47,"v":4500},{"t":2008.47,"v":4800},
      {"t":2008.52,"v":3700},{"t":2008.52,"v":3950},{"t":2008.52,"v":4200},{"t":2008.52,"v":4500},{"t":2008.52,"v":4800},
      {"t":2008.57,"v":3500},{"t":2008.57,"v":3800},{"t":2008.57,"v":4100},{"t":2008.57,"v":4400},{"t":2008.57,"v":4700},
      {"t":2008.62,"v":3200},{"t":2008.62,"v":3550},{"t":2008.62,"v":3900},{"t":2008.62,"v":4250},{"t":2008.62,"v":4600},
      {"t":2008.67,"v":2950},{"t":2008.67,"v":3300},{"t":2008.67,"v":3700},{"t":2008.67,"v":4300},{"t":2008.67,"v":4850},
      {"t":2008.72,"v":3100},{"t":2008.72,"v":3500},{"t":2008.72,"v":3900},{"t":2008.72,"v":4300},{"t":2008.72,"v":4700},
      {"t":2008.77,"v":3000},{"t":2008.77,"v":3400},{"t":2008.77,"v":3800},{"t":2008.77,"v":4200},{"t":2008.77,"v":4600},
      {"t":2008.82,"v":3300},{"t":2008.82,"v":3650},{"t":2008.82,"v":4000},{"t":2008.82,"v":4450},{"t":2008.82,"v":4900},
      {"t":2008.87,"v":3100},{"t":2008.87,"v":3500},{"t":2008.87,"v":3900},{"t":2008.87,"v":4300},{"t":2008.87,"v":4700},
      {"t":2008.92,"v":3300},{"t":2008.92,"v":3650},{"t":2008.92,"v":4000},{"t":2008.92,"v":4400},{"t":2008.92,"v":4800},
      {"t":2008.97,"v":3200},{"t":2008.97,"v":3550},{"t":2008.97,"v":3900},{"t":2008.97,"v":4400},{"t":2008.97,"v":4850},
      {"t":2009.02,"v":3150},{"t":2009.02,"v":3550},{"t":2009.02,"v":3900},{"t":2009.02,"v":4300},{"t":2009.02,"v":4700},
      {"t":2009.07,"v":3400},{"t":2009.07,"v":3750},{"t":2009.07,"v":4100},{"t":2009.07,"v":4500},{"t":2009.07,"v":4900},
      {"t":2009.12,"v":3500},{"t":2009.12,"v":3850},{"t":2009.12,"v":4200},{"t":2009.12,"v":4600},{"t":2009.12,"v":5000},
      {"t":2009.17,"v":3600},{"t":2009.17,"v":3950},{"t":2009.17,"v":4300},{"t":2009.17,"v":4700},{"t":2009.17,"v":5100},
      {"t":2009.22,"v":3700},{"t":2009.22,"v":4050},{"t":2009.22,"v":4400},{"t":2009.22,"v":4800},{"t":2009.22,"v":5200},
      {"t":2009.27,"v":3800},{"t":2009.27,"v":4150},{"t":2009.27,"v":4500},{"t":2009.27,"v":4950},{"t":2009.27,"v":5350},
      {"t":2009.32,"v":3700},{"t":2009.32,"v":4150},{"t":2009.32,"v":4600},{"t":2009.32,"v":5050},{"t":2009.32,"v":5500},
      {"t":2009.37,"v":3600},{"t":2009.37,"v":4000},{"t":2009.37,"v":4400},{"t":2009.37,"v":4850},{"t":2009.37,"v":5300},
      {"t":2009.42,"v":3550},{"t":2009.42,"v":3950},{"t":2009.42,"v":4300},{"t":2009.42,"v":4700},{"t":2009.42,"v":5100},
      {"t":2009.47,"v":3700},{"t":2009.47,"v":4050},{"t":2009.47,"v":4400},{"t":2009.47,"v":4800},{"t":2009.47,"v":5200},
      {"t":2009.52,"v":3800},{"t":2009.52,"v":4150},{"t":2009.52,"v":4500},{"t":2009.52,"v":4950},{"t":2009.52,"v":5350},
      {"t":2009.57,"v":3900},{"t":2009.57,"v":4300},{"t":2009.57,"v":4700},{"t":2009.57,"v":5100},{"t":2009.57,"v":5500},
      {"t":2009.62,"v":3700},{"t":2009.62,"v":4250},{"t":2009.62,"v":4800},{"t":2009.62,"v":5250},{"t":2009.62,"v":5650},
      {"t":2009.67,"v":3600},{"t":2009.67,"v":4050},{"t":2009.67,"v":4500},{"t":2009.67,"v":5000},{"t":2009.67,"v":5450},
      {"t":2009.72,"v":3650},{"t":2009.72,"v":4000},{"t":2009.72,"v":4400},{"t":2009.72,"v":4850},{"t":2009.72,"v":5300},
      {"t":2009.77,"v":3700},{"t":2009.77,"v":4050},{"t":2009.77,"v":4400},{"t":2009.77,"v":4750},{"t":2009.77,"v":5100},
      {"t":2009.82,"v":3800},{"t":2009.82,"v":4050},{"t":2009.82,"v":4300},{"t":2009.82,"v":4650},{"t":2009.82,"v":5000},
      {"t":2009.87,"v":3900},{"t":2009.87,"v":4150},{"t":2009.87,"v":4400},{"t":2009.87,"v":4700},{"t":2009.87,"v":4950},
      {"t":2009.92,"v":3850},{"t":2009.92,"v":4100},{"t":2009.92,"v":4300},{"t":2009.92,"v":4600},{"t":2009.92,"v":4900},
      {"t":2009.97,"v":3900},{"t":2009.97,"v":4150},{"t":2009.97,"v":4400},{"t":2009.97,"v":4700},{"t":2009.97,"v":4950},
      {"t":2010.02,"v":3900},{"t":2010.02,"v":4150},{"t":2010.02,"v":4400},{"t":2010.02,"v":4700},{"t":2010.02,"v":5000},
      {"t":2010.07,"v":3850},{"t":2010.07,"v":4100},{"t":2010.07,"v":4300},{"t":2010.07,"v":4600},{"t":2010.07,"v":4900},
      {"t":2010.12,"v":3900},{"t":2010.12,"v":4200},{"t":2010.12,"v":4500},{"t":2010.12,"v":4750},{"t":2010.12,"v":5000},
      {"t":2010.17,"v":3900},{"t":2010.17,"v":4150},{"t":2010.17,"v":4400},{"t":2010.17,"v":4700},{"t":2010.17,"v":4950},
      {"t":2010.22,"v":3800},{"t":2010.22,"v":4150},{"t":2010.22,"v":4500},{"t":2010.22,"v":4800},{"t":2010.22,"v":5100},
      {"t":2010.27,"v":3700},{"t":2010.27,"v":4100},{"t":2010.27,"v":4500},{"t":2010.27,"v":4900},{"t":2010.27,"v":5300},
      {"t":2010.32,"v":3400},{"t":2010.32,"v":3850},{"t":2010.32,"v":4300},{"t":2010.32,"v":4850},{"t":2010.32,"v":5350},
      {"t":2010.37,"v":3100},{"t":2010.37,"v":3500},{"t":2010.37,"v":3900},{"t":2010.37,"v":4550},{"t":2010.37,"v":5200},
      {"t":2010.42,"v":3900},{"t":2010.42,"v":4250},{"t":2010.42,"v":4600},{"t":2010.42,"v":5000},{"t":2010.42,"v":5350},
      {"t":2010.47,"v":4000},{"t":2010.47,"v":4350},{"t":2010.47,"v":4700},{"t":2010.47,"v":5100},{"t":2010.47,"v":5450},
      {"t":2010.52,"v":4100},{"t":2010.52,"v":4500},{"t":2010.52,"v":4900},{"t":2010.52,"v":5250},{"t":2010.52,"v":5600},
      {"t":2010.57,"v":4000},{"t":2010.57,"v":4500},{"t":2010.57,"v":5000},{"t":2010.57,"v":5400},{"t":2010.57,"v":5800},
      {"t":2010.62,"v":4200},{"t":2010.62,"v":4650},{"t":2010.62,"v":5100},{"t":2010.62,"v":5550},{"t":2010.62,"v":6000},
      {"t":2010.67,"v":4000},{"t":2010.67,"v":4450},{"t":2010.67,"v":4900},{"t":2010.67,"v":5300},{"t":2010.67,"v":5650},
      {"t":2010.72,"v":3950},{"t":2010.72,"v":4300},{"t":2010.72,"v":4700},{"t":2010.72,"v":5100},{"t":2010.72,"v":5450},
      {"t":2010.77,"v":3900},{"t":2010.77,"v":4250},{"t":2010.77,"v":4600},{"t":2010.77,"v":5000},{"t":2010.77,"v":5350},
      {"t":2010.82,"v":3800},{"t":2010.82,"v":4150},{"t":2010.82,"v":4500},{"t":2010.82,"v":4900},{"t":2010.82,"v":5250},
      {"t":2010.87,"v":2850},{"t":2010.87,"v":3100},{"t":2010.87,"v":3500},{"t":2010.87,"v":3850},{"t":2010.87,"v":4200},{"t":2010.87,"v":4600},{"t":2010.87,"v":5000},
      {"t":2010.92,"v":3900},{"t":2010.92,"v":4250},{"t":2010.92,"v":4600},{"t":2010.92,"v":5000},{"t":2010.92,"v":5350},
      {"t":2010.97,"v":4000},{"t":2010.97,"v":4350},{"t":2010.97,"v":4700},{"t":2010.97,"v":5050},{"t":2010.97,"v":5400},
      {"t":2011.02,"v":4300},{"t":2011.02,"v":4600},{"t":2011.02,"v":4900},{"t":2011.02,"v":5200},{"t":2011.02,"v":5500},
      {"t":2011.07,"v":4300},{"t":2011.07,"v":4650},{"t":2011.07,"v":5000},{"t":2011.07,"v":5300},{"t":2011.07,"v":5650},
      {"t":2011.12,"v":4400},{"t":2011.12,"v":4750},{"t":2011.12,"v":5100},{"t":2011.12,"v":5450},{"t":2011.12,"v":5750},
      {"t":2011.17,"v":4300},{"t":2011.17,"v":4650},{"t":2011.17,"v":5000},{"t":2011.17,"v":5350},{"t":2011.17,"v":5650},
      {"t":2011.22,"v":4300},{"t":2011.22,"v":4600},{"t":2011.22,"v":4900},{"t":2011.22,"v":5250},{"t":2011.22,"v":5550},
      {"t":2011.27,"v":4300},{"t":2011.27,"v":4650},{"t":2011.27,"v":5000},{"t":2011.27,"v":5350},{"t":2011.27,"v":5650},
      {"t":2011.32,"v":4400},{"t":2011.32,"v":4750},{"t":2011.32,"v":5100},{"t":2011.32,"v":5450},{"t":2011.32,"v":5770},
      {"t":2011.37,"v":4300},{"t":2011.37,"v":4600},{"t":2011.37,"v":4900},{"t":2011.37,"v":5250},{"t":2011.37,"v":5550},
      {"t":2011.42,"v":4300},{"t":2011.42,"v":4550},{"t":2011.42,"v":4800},{"t":2011.42,"v":5150},{"t":2011.42,"v":5450},
      {"t":2011.47,"v":4400},{"t":2011.47,"v":4700},{"t":2011.47,"v":5000},{"t":2011.47,"v":5350},{"t":2011.47,"v":5650},
      {"t":2011.52,"v":4500},{"t":2011.52,"v":4800},{"t":2011.52,"v":5100},{"t":2011.52,"v":5400},{"t":2011.52,"v":5700},
      {"t":2011.57,"v":4600},{"t":2011.57,"v":4900},{"t":2011.57,"v":5200},{"t":2011.57,"v":5500},{"t":2011.57,"v":5800},
      {"t":2011.62,"v":4700},{"t":2011.62,"v":5000},{"t":2011.62,"v":5300},{"t":2011.62,"v":5800},{"t":2011.62,"v":6250},
      {"t":2011.67,"v":4700},{"t":2011.67,"v":4900},{"t":2011.67,"v":5100},{"t":2011.67,"v":5300},{"t":2011.67,"v":5500},
      {"t":2011.72,"v":4750},{"t":2011.72,"v":4900},{"t":2011.72,"v":5000},{"t":2011.72,"v":5200},{"t":2011.72,"v":5350}
    ]
  },
  "layer": [
    {
      "data": {"name": "band"},
      "mark": {"type": "point", "shape": "M-0.23,-1H0.23V1H-0.23Z", "filled": true, "size": 144, "color": "#000", "opacity": 1, "strokeWidth": 0},
      "encoding": {
        "x": {"field": "t", "type": "quantitative", "scale": {"domain": [1975.22, 2015.71], "nice": false, "zero": false},
              "axis": {"orient": "bottom", "values": [1980, 1990, 2000, 2010], "format": "d", "tickSize": 19, "labelPadding": 47, "labelBaseline": "alphabetic", "title": null}},
        "y": {"field": "v", "type": "quantitative", "scale": {"domain": [0, 20700], "nice": false, "zero": true},
              "axis": {"values": [0, 5000, 10000, 15000, 20000], "format": "d", "tickSize": 19, "labelPadding": 18, "labelBaseline": "alphabetic", "labelOffset": 14, "title": "Electrical Conductivity (uS/cm)", "titleAngle": -90, "titleX": -152.5, "titleY": 433, "titleBaseline": "alphabetic", "titleAlign": "center"}}
      }
    },
    {
      "data": {"name": "sparse"},
      "mark": {"type": "point", "shape": "square", "filled": true, "size": 11, "color": "#000", "opacity": 1, "strokeWidth": 0},
      "encoding": {
        "x": {"field": "t", "type": "quantitative", "axis": {"orient": "top", "labels": false, "ticks": false, "domain": true, "title": null, "grid": false}},
        "y": {"field": "v", "type": "quantitative"}
      }
    }
  ],
  "resolve": {"axis": {"x": "independent"}}
}
